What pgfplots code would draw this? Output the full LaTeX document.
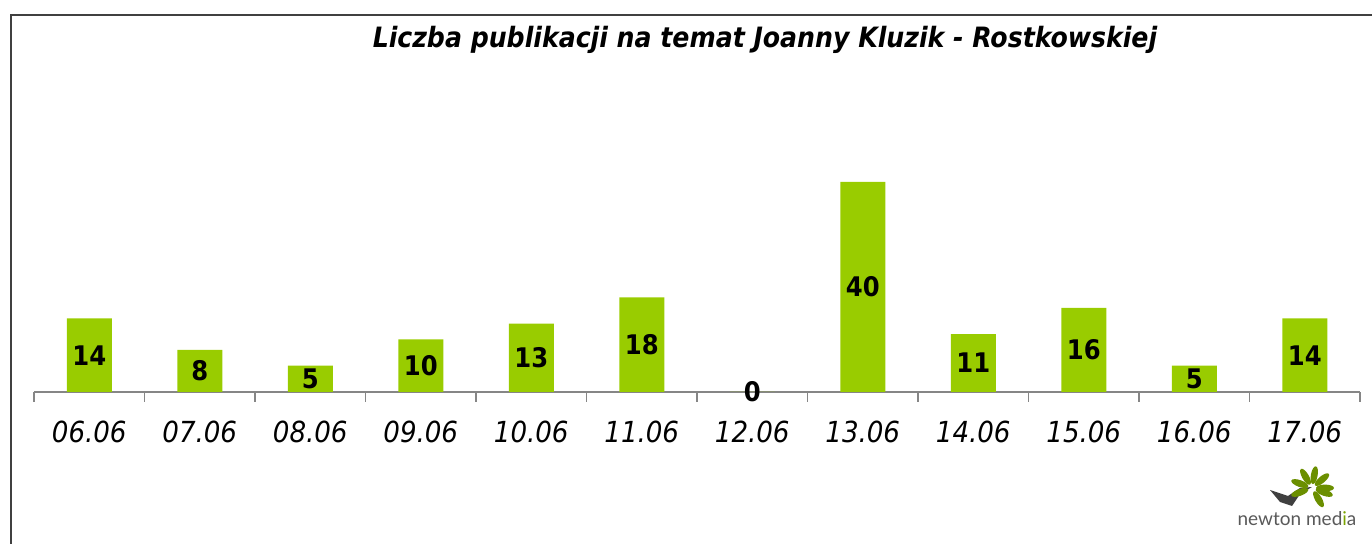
\documentclass[border=0pt]{standalone}
\usepackage{pgfplots}
\pgfplotsset{compat=1.18}
\usepackage{fontspec}
\setmainfont{DejaVu Sans Condensed}
\newfontfamily\logofont{Lato}
\definecolor{bargreen}{HTML}{99CC00}
\definecolor{axgray}{RGB}{134,134,134}
\definecolor{framegray}{RGB}{64,64,64}
\begin{document}
\begin{tikzpicture}[x=1pt,y=1pt]
\path[use as bounding box] (0,0) rectangle (686,272);
\draw[framegray, line width=1pt] (5.5,0) -- (5.5,264.5) -- (686,264.5);
\node[font=\fontsize{14}{16}\selectfont\bfseries\itshape] at (382.5,252) {Liczba publikacji na temat Joanny Kluzik - Rostkowskiej};
\begin{axis}[
  at={(17pt,76pt)}, anchor=south west,
  scale only axis, width=663pt, height=118.125pt,
  xmin=-0.5, xmax=11.5, ymin=0, ymax=45,
  axis y line=none, axis x line*=bottom,
  x axis line style={-, draw=axgray, line width=0.75pt},
  xtick={0,...,11},
  xticklabels={06.06,07.06,08.06,09.06,10.06,11.06,12.06,13.06,14.06,15.06,16.06,17.06},
  minor xtick={-0.5,0.5,...,11.5},
  major tick length=0pt, minor tick length=5pt,
  tick align=outside,
  every tick/.style={draw=axgray, line width=0.75pt},
  xticklabel style={font=\fontsize{14.5}{16}\selectfont\itshape, yshift=-11pt},
  /pgf/number format/assume math mode=true,
  clip=false,
]
\addplot[ybar, bar width=22.5pt, fill=bargreen, draw=none] coordinates {
 (0,14) (1,8) (2,5) (3,10) (4,13) (5,18) (6,0) (7,40) (8,11) (9,16) (10,5) (11,14)};
\addplot[draw=none, mark=none, point meta=explicit,
  nodes near coords, every node near coord/.style={anchor=center, font=\fontsize{13.5}{15}\selectfont\bfseries}]
  table[x=x, y=h, meta=v] {
x h v
0 7 14
1 4 8
2 2.5 5
3 5 10
4 6.5 13
5 9 18
6 0 0
7 20 40
8 5.5 11
9 8 16
10 2.5 5
11 7 14
};
\end{axis}
% logo
\node[font=\logofont\fontsize{9.5}{11}\selectfont, text=black!65] at (648.5,12.5) {newton med\textcolor{bargreen!80!black}{i}a};
\fill[black!75] (635,27) -- (644,24) -- (650,28) -- (656,28.5) -- (650,25) -- (646,19) -- (640,21) -- cycle;
\foreach \a in {0,40,80,120,160,200,300,340}{
  \fill[bargreen!70!black, rotate around={\a:(656,28)}] (662.5,28) ellipse (4.5 and 1.7);
}
\end{tikzpicture}
\end{document}
